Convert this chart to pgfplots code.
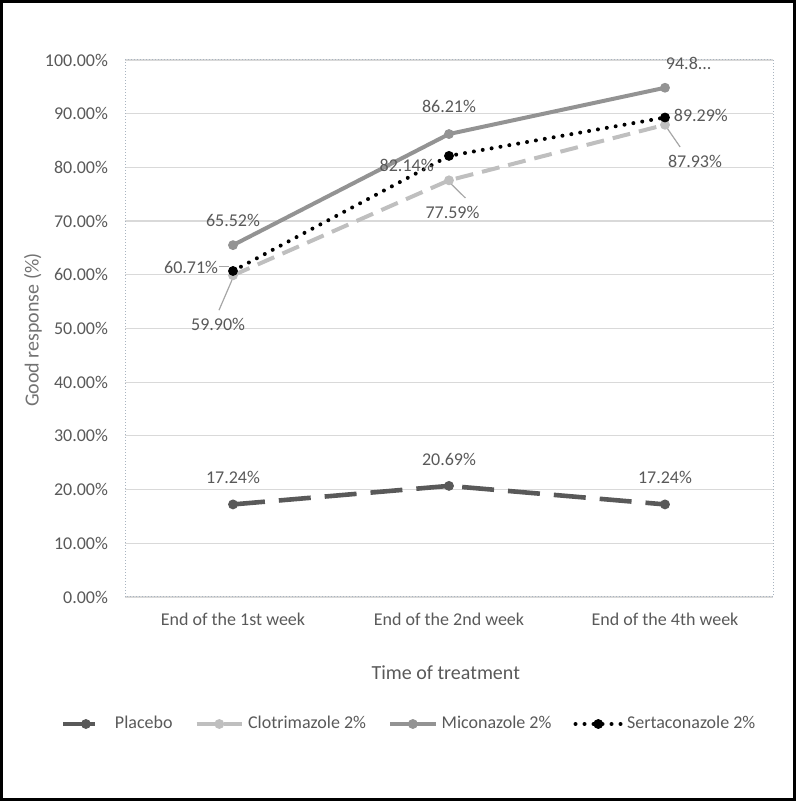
\documentclass[border=0pt]{standalone}
\usepackage{pgfplots}
\pgfplotsset{compat=1.18}
\usepackage{fontspec}
\setmainfont{Carlito}
\definecolor{txt}{HTML}{595959}
\definecolor{placebo}{HTML}{595959}
\definecolor{clotri}{HTML}{BFBFBF}
\definecolor{micon}{HTML}{939393}
\definecolor{serta}{HTML}{000000}
\definecolor{gridc}{HTML}{D9D9D9}
\definecolor{leader}{HTML}{A6A6A6}
\definecolor{frame}{HTML}{A9B4C0}
\begin{document}
\begin{tikzpicture}
\draw[line width=1.5pt] (0.75pt,0.75pt) rectangle (397.25pt,399.75pt);
\begin{axis}[
  at={(62.5pt,102pt)}, anchor=south west,
  scale only axis, width=324pt, height=268.5pt,
  xmin=-0.5, xmax=2.5, ymin=0, ymax=100,
  xtick={0,1,2},
  xticklabels={End of the 1st week, End of the 2nd week, End of the 4th week},
  ytick={0,10,...,100},
  yticklabels={0.00\%,10.00\%,20.00\%,30.00\%,40.00\%,50.00\%,60.00\%,70.00\%,80.00\%,90.00\%,100.00\%},
  major tick length=0pt,
  ymajorgrids, grid style={gridc, line width=0.6pt},
  axis line style={densely dotted, color=frame, line width=0.5pt},
  font=\fontsize{9}{11}\selectfont,
  every tick label/.append style={text=txt, font=\fontsize{9}{11}\selectfont},
  xticklabel style={yshift=-4.5pt},
  yticklabel style={xshift=-5pt},
  xlabel={Time of treatment},
  ylabel={Good response (\%)},
  xlabel style={at={(axis description cs:0.495,-0.1415)}, anchor=center, text=txt, font=\fontsize{10}{12}\selectfont},
  ylabel style={at={(axis description cs:-0.142,0.497)}, anchor=center, text=txt!85, font=\fontsize{10}{12}\selectfont},
  legend columns=4,
  legend style={at={(0.44,-0.2365)}, anchor=center, draw=none, fill=none,
    font=\fontsize{9}{11}\selectfont, text=txt,
    /tikz/every even column/.append style={column sep=9pt}},
  legend image code/.code={\draw[mark repeat=2,mark phase=2,#1] plot coordinates {(0cm,0cm)(0.4cm,0cm)(0.8cm,0cm)};},
  clip=false,
]
\addplot[placebo, line width=2.3pt, dash pattern=on 16pt off 7pt, mark=*, mark size=2.2pt, mark options={solid, line width=0.5pt}]
  coordinates {(0,17.24) (1,20.69) (2,17.24)};
\addlegendentry{Placebo}
\addplot[clotri, line width=2pt, dash pattern=on 9pt off 4.5pt, mark=*, mark size=2.2pt, mark options={solid, line width=0.5pt}]
  coordinates {(0,59.90) (1,77.59) (2,87.93)};
\addlegendentry{Clotrimazole 2\%}
\addplot[micon, line width=2pt, mark=*, mark size=2.2pt, mark options={line width=0.5pt}]
  coordinates {(0,65.52) (1,86.21) (2,94.83)};
\addlegendentry{Miconazole 2\%}
\addplot[serta, line width=2pt, line cap=round, dash pattern=on 0pt off 4.5pt, mark=*, mark size=2.2pt, mark options={solid, line width=0.5pt}]
  coordinates {(0,60.71) (1,82.14) (2,89.29)};
\addlegendentry{Sertaconazole 2\%}
% data labels
\begin{scope}[every node/.style={text=txt, font=\fontsize{9}{11}\selectfont, inner sep=1pt}]
\node at (axis cs:0,22.35) {17.24\%};
\node at (axis cs:1,25.7) {20.69\%};
\node at (axis cs:2,22.35) {17.24\%};
\node at (axis cs:0,70.2) {65.52\%};
\node at (axis cs:1,91.4) {86.21\%};
\node at (axis cs:2.11,99.3) {94.8...};
\node at (axis cs:-0.069,50.8) {59.90\%};
\node at (axis cs:1.016,71.7) {77.59\%};
\node at (axis cs:2.139,81.2) {87.93\%};
\node at (axis cs:-0.194,61.3) {60.71\%};
\node at (axis cs:0.804,80.3) {82.14\%};
\node at (axis cs:2.166,89.6) {89.29\%};
\end{scope}
\draw[leader, line width=0.6pt] (axis cs:-0.065,53.4) -- (axis cs:-0.005,59.0);
\draw[leader, line width=0.6pt] (axis cs:1.01,76.9) -- (axis cs:1.076,74.3);
\draw[leader, line width=0.6pt] (axis cs:2.01,87.3) -- (axis cs:2.07,83.8);
\draw[leader, line width=0.6pt] (axis cs:-0.065,61.6) -- (axis cs:-0.02,61.6);
\end{axis}
\end{tikzpicture}
\end{document}
